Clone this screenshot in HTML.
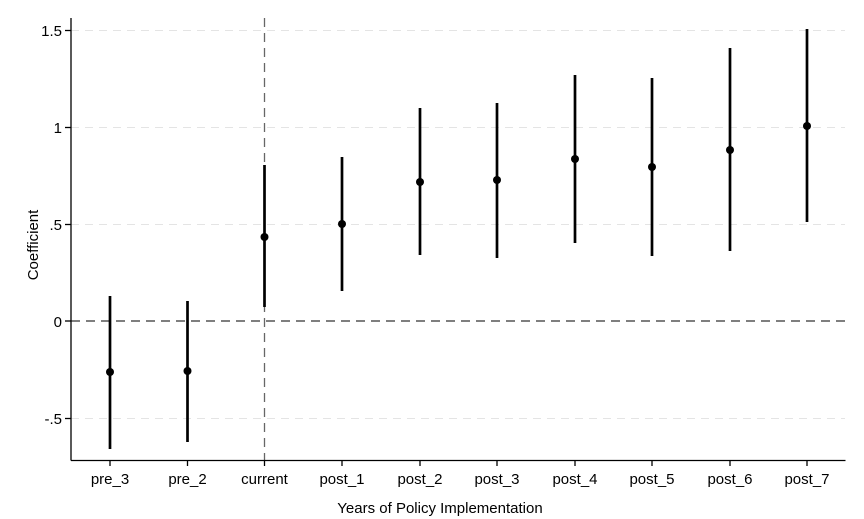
<!DOCTYPE html>
<html><head><meta charset="utf-8"><style>
html,body{margin:0;padding:0;background:#fff;}
svg{display:block;font-family:"Liberation Sans",Arial,sans-serif;}
</style></head><body>
<svg width="864" height="519" viewBox="0 0 864 519" xmlns="http://www.w3.org/2000/svg">
<rect width="864" height="519" fill="#fff"/>
<g stroke="#e4e4e4" stroke-width="1" stroke-dasharray="8,6">
<line x1="71" y1="30.5" x2="845" y2="30.5"/>
<line x1="71" y1="127.5" x2="845" y2="127.5"/>
<line x1="71" y1="224.5" x2="845" y2="224.5"/>
<line x1="71" y1="418.5" x2="845" y2="418.5"/>
</g>
<line x1="71" y1="321" x2="845" y2="321" stroke="#333" stroke-width="1.3" stroke-dasharray="9,6"/>
<line x1="264.5" y1="18" x2="264.5" y2="460" stroke="#666" stroke-width="1.3" stroke-dasharray="9,6"/>
<g stroke="#000" stroke-width="1.3">
<line x1="71" y1="18" x2="71" y2="460.5"/>
<line x1="71" y1="460.5" x2="845.5" y2="460.5"/>
<line x1="65" y1="30.5" x2="71" y2="30.5"/>
<line x1="65" y1="127.5" x2="71" y2="127.5"/>
<line x1="65" y1="224.5" x2="71" y2="224.5"/>
<line x1="65" y1="321" x2="71" y2="321"/>
<line x1="65" y1="418.5" x2="71" y2="418.5"/>
</g>
<g font-size="15" fill="#000" text-anchor="end">
<text x="62" y="36">1.5</text>
<text x="62" y="133">1</text>
<text x="62" y="230">.5</text>
<text x="62" y="327">0</text>
<text x="62" y="424">-.5</text>
</g>
<text transform="translate(38,245) rotate(-90)" font-size="15" text-anchor="middle">Coefficient</text>
<text x="440" y="513" font-size="15" text-anchor="middle">Years of Policy Implementation</text>
<g stroke="#000" stroke-width="2.7">
<line x1="110" y1="296" x2="110" y2="449"/>
<line x1="187.5" y1="301" x2="187.5" y2="442"/>
<line x1="264.5" y1="165" x2="264.5" y2="307"/>
<line x1="342" y1="157" x2="342" y2="291"/>
<line x1="420" y1="108" x2="420" y2="255"/>
<line x1="497" y1="103" x2="497" y2="258"/>
<line x1="575" y1="75" x2="575" y2="243"/>
<line x1="652" y1="78" x2="652" y2="256"/>
<line x1="730" y1="48" x2="730" y2="251"/>
<line x1="807" y1="29" x2="807" y2="222"/>
</g>
<g fill="#000">
<circle cx="110" cy="372" r="4"/>
<circle cx="187.5" cy="371" r="4"/>
<circle cx="264.5" cy="237" r="4"/>
<circle cx="342" cy="224" r="4"/>
<circle cx="420" cy="182" r="4"/>
<circle cx="497" cy="180" r="4"/>
<circle cx="575" cy="159" r="4"/>
<circle cx="652" cy="167" r="4"/>
<circle cx="730" cy="150" r="4"/>
<circle cx="807" cy="126" r="4"/>
</g>
<g stroke="#000" stroke-width="1.3">
<line x1="110" y1="460" x2="110" y2="466"/><line x1="187.5" y1="460" x2="187.5" y2="466"/>
<line x1="264.5" y1="460" x2="264.5" y2="466"/><line x1="342" y1="460" x2="342" y2="466"/>
<line x1="420" y1="460" x2="420" y2="466"/><line x1="497" y1="460" x2="497" y2="466"/>
<line x1="575" y1="460" x2="575" y2="466"/><line x1="652" y1="460" x2="652" y2="466"/>
<line x1="730" y1="460" x2="730" y2="466"/><line x1="807" y1="460" x2="807" y2="466"/>
</g>
<g font-size="15" text-anchor="middle">
<text x="110" y="484">pre_3</text><text x="187.5" y="484">pre_2</text>
<text x="264.5" y="484">current</text><text x="342" y="484">post_1</text>
<text x="420" y="484">post_2</text><text x="497" y="484">post_3</text>
<text x="575" y="484">post_4</text><text x="652" y="484">post_5</text>
<text x="730" y="484">post_6</text><text x="807" y="484">post_7</text>
</g>
</svg>
</body></html>
